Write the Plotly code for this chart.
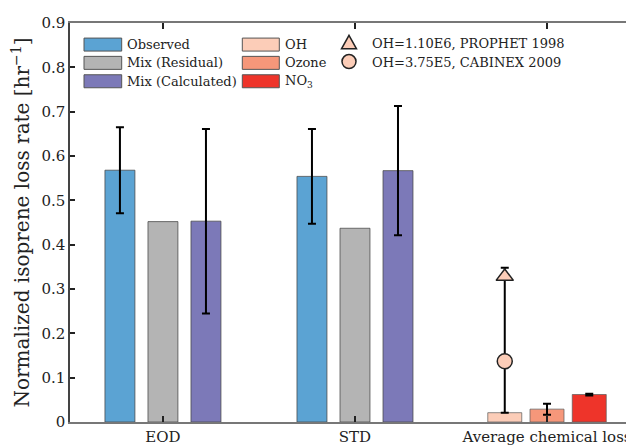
import plotly.graph_objects as go

# ---------------- data ----------------
categories = ["EOD", "STD", "Average chemical loss"]
observed = [0.568, 0.554]
observed_err = [0.097, 0.107]
mix_residual = [0.452, 0.437]
mix_calc = [0.453, 0.567]
mix_calc_err = [0.208, 0.146]

chem_names = ["OH", "Ozone", "NO<sub>3</sub>"]
chem_loss = [0.021, 0.029, 0.062]
chem_err_plus = [0.0, 0.012, 0.002]
chem_err_minus = [0.0, 0.0125, 0.002]

oh_prophet = 0.328      # OH=1.10E6, PROPHET 1998
oh_prophet_hi = 0.348
oh_cabinex = 0.137      # OH=3.75E5, CABINEX 2009

y_ticks = [0, 0.1, 0.2, 0.3, 0.4, 0.5, 0.6, 0.7, 0.8, 0.9]

# ---------------- style ----------------
FONT = "DejaVu Serif"
C_OBS = "#5ba3d3"
C_RES = "#b4b4b4"
C_CALC = "#7c79b8"
C_CHEM = ["#fccdb8", "#f6977a", "#ee342a"]
EDGE = "rgba(70,70,70,0.75)"

# page has an 8px body margin; work in page pixels, convert to figure pixels
BODY = 8
PAGE_W, PAGE_H = 634, 447
W = PAGE_W - BODY
H = PAGE_H - BODY
PL, PR, PT, PB = 70, 634, 22.7, 422   # plot area in page pixels

OFF = 0.224
BW = 0.156
CW = 0.177
COFF = 0.22

fig = go.Figure()

grp = [1, 2]
err_style = dict(type="data", color="black", thickness=2, width=4, visible=True)

fig.add_trace(go.Bar(x=[g - OFF for g in grp], y=observed, width=BW,
                     marker=dict(color=C_OBS, line=dict(color=EDGE, width=1)),
                     error_y=dict(array=observed_err, **err_style)))
fig.add_trace(go.Bar(x=grp, y=mix_residual, width=BW,
                     marker=dict(color=C_RES, line=dict(color=EDGE, width=1))))
fig.add_trace(go.Bar(x=[g + OFF for g in grp], y=mix_calc, width=BW,
                     marker=dict(color=C_CALC, line=dict(color=EDGE, width=1)),
                     error_y=dict(array=mix_calc_err, **err_style)))

chem_x = [3 - COFF, 3, 3 + COFF]
for i in range(3):
    eb = dict(array=[chem_err_plus[i]], arrayminus=[chem_err_minus[i]], **err_style)
    if chem_err_plus[i] == 0:
        eb["visible"] = False
    fig.add_trace(go.Bar(x=[chem_x[i]], y=[chem_loss[i]], width=CW,
                         marker=dict(color=C_CHEM[i], line=dict(color="rgba(90,90,90,0.7)", width=1)),
                         error_y=eb))

# OH range line with PROPHET triangle
fig.add_trace(go.Scatter(x=[chem_x[0]], y=[oh_prophet], mode="markers",
                         marker=dict(symbol="triangle-up", size=15, color=C_CHEM[0],
                                     line=dict(color="#222", width=1.5)),
                         error_y=dict(array=[oh_prophet_hi - oh_prophet],
                                      arrayminus=[oh_prophet - chem_loss[0]], **err_style)))
fig.add_trace(go.Scatter(x=[chem_x[0]], y=[oh_cabinex], mode="markers",
                         marker=dict(symbol="circle", size=15, color=C_CHEM[0],
                                     line=dict(color="#222", width=1.5))))


def px(x):
    return (x - PL) / (PR - PL)


def py(y):
    return (PB - y) / (PB - PT)


LEG_FONT = dict(family=FONT, size=13, color="#222")
shapes = []
annots = []
leg_rows = [44.3, 62.6, 81.0]
col1 = [("Observed", C_OBS), ("Mix (Residual)", C_RES), ("Mix (Calculated)", C_CALC)]
for (lab, col), yc in zip(col1, leg_rows):
    shapes.append(dict(type="rect", xref="paper", yref="paper",
                       x0=px(84), x1=px(121.7), y0=py(yc + 6.5), y1=py(yc - 6.5),
                       fillcolor=col, line=dict(color="#555", width=1)))
    annots.append(dict(x=px(125), y=py(yc), xref="paper", yref="paper", text=lab,
                       showarrow=False, xanchor="left", yanchor="middle", font=LEG_FONT))
for lab, col, yc in zip(chem_names, C_CHEM, leg_rows):
    shapes.append(dict(type="rect", xref="paper", yref="paper",
                       x0=px(242.3), x1=px(279.3), y0=py(yc + 6.5), y1=py(yc - 6.5),
                       fillcolor=col, line=dict(color="#555", width=1)))
    annots.append(dict(x=px(282.5), y=py(yc), xref="paper", yref="paper", text=lab,
                       showarrow=False, xanchor="left", yanchor="middle", font=LEG_FONT))

# marker legend entries
tx, ty = 349, 42.5
shapes.append(dict(type="path", xref="paper", yref="paper",
                   path=f"M {px(tx)},{py(ty-7.5)} L {px(tx+7.5)},{py(ty+6)} L {px(tx-7.5)},{py(ty+6)} Z",
                   fillcolor=C_CHEM[0], line=dict(color="#222", width=1.5)))
cx, cy = 349, 61.3
shapes.append(dict(type="circle", xref="paper", yref="paper",
                   x0=px(cx - 7), x1=px(cx + 7), y0=py(cy + 7), y1=py(cy - 7),
                   fillcolor=C_CHEM[0], line=dict(color="#222", width=1.5)))
annots.append(dict(x=px(370), y=py(43.5), xref="paper", yref="paper",
                   text="OH=1.10E6, PROPHET 1998", showarrow=False,
                   xanchor="left", yanchor="middle", font=LEG_FONT))
annots.append(dict(x=px(370), y=py(61.8), xref="paper", yref="paper",
                   text="OH=3.75E5, CABINEX 2009", showarrow=False,
                   xanchor="left", yanchor="middle", font=LEG_FONT))

fig.update_layout(
    width=W, height=H,
    margin=dict(l=PL - BODY, r=0, t=PT - BODY, b=H - (PB - BODY)),
    plot_bgcolor="white", paper_bgcolor="white",
    barmode="overlay", showlegend=False,
    font=dict(family=FONT, size=15, color="#222"),
    shapes=shapes, annotations=annots,
    xaxis=dict(range=[0.516, 3.453], tickvals=[1, 2, 3], ticktext=categories,
               ticks="inside", ticklen=6, tickwidth=1.5, tickcolor="#222",
               showline=True, linecolor="#777", linewidth=1.5, mirror="ticks",
               showgrid=False, zeroline=False, automargin=False,
               tickfont=dict(family=FONT, size=15, color="#222")),
    yaxis=dict(range=[0, 0.9], tickvals=y_ticks, ticktext=[f"{v:g}" for v in y_ticks],
               ticks="inside", ticklen=5, tickwidth=1.5, tickcolor="#222",
               showline=True, linecolor="#444", linewidth=1.5, mirror="ticks",
               showgrid=False, zeroline=False, automargin=False,
               tickfont=dict(family=FONT, size=15, color="#222"),
               title=dict(text="Normalized isoprene loss rate [hr<sup>−1</sup>]",
                          font=dict(family=FONT, size=20, color="#222"), standoff=8)),
)

fig.write_html("out.html")
